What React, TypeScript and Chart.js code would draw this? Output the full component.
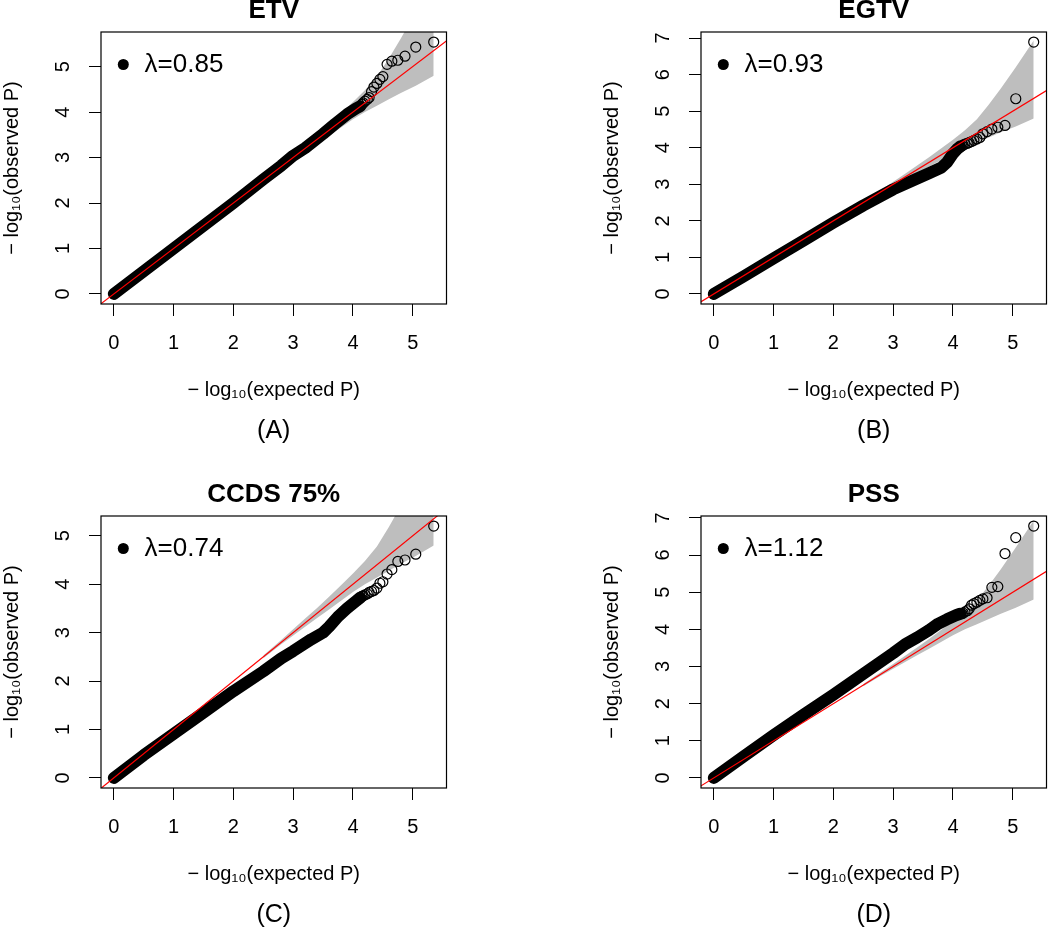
import React, { useEffect, useRef } from "react";
import { Chart, registerables } from "chart.js";

Chart.register(...registerables);

const FONT = "'Liberation Sans', Arial, Helvetica, sans-serif";

// ---------- data ----------
const panelTitles = ["ETV", "EGTV", "CCDS 75%", "PSS"];
const panelLabels = ["(A)", "(B)", "(C)", "(D)"];
const lambdas = [0.85, 0.93, 0.74, 1.12];

const xTicks = [0, 1, 2, 3, 4, 5];
const yTicks5 = [0, 1, 2, 3, 4, 5];
const yTicks7 = [0, 1, 2, 3, 4, 5, 6, 7];

const xAxisTitle = "\u2212 log\u2081\u2080(expected P)";
const yAxisTitle = "\u2212 log\u2081\u2080(observed P)";

// expected -log10(P) of the 16 most extreme (individually visible) points
const tailExpected = [4.15, 4.17, 4.2, 4.24, 4.27, 4.31, 4.35, 4.4, 4.45, 4.5, 4.57, 4.65, 4.75, 4.87, 5.05, 5.35];

// ETV
const etvBandX = [0, 0.5, 1, 1.5, 2, 2.5, 2.8, 3.0, 3.2, 3.5, 3.7, 3.9, 4.05, 4.12];
const etvBandY = [0, 0.5, 1.0, 1.5, 2.0, 2.52, 2.82, 3.04, 3.21, 3.52, 3.74, 3.95, 4.08, 4.13];
const etvTailY = [4.17, 4.2, 4.24, 4.28, 4.32, 4.45, 4.55, 4.63, 4.72, 4.78, 5.05, 5.12, 5.14, 5.23, 5.43, 5.54];

// EGTV
const egtvBandX = [0, 0.5, 1, 1.5, 2, 2.5, 3.0, 3.3, 3.6, 3.8, 3.9, 4.0, 4.08, 4.12];
const egtvBandY = [0, 0.48, 0.97, 1.46, 1.95, 2.42, 2.86, 3.08, 3.3, 3.45, 3.6, 3.84, 3.98, 4.03];
const egtvTailY = [4.05, 4.07, 4.1, 4.12, 4.14, 4.17, 4.2, 4.24, 4.28, 4.38, 4.44, 4.51, 4.56, 4.61, 5.34, 6.89];

// CCDS 75%
const ccdsBandX = [0, 0.5, 1, 1.5, 2, 2.5, 2.8, 3.0, 3.3, 3.5, 3.6, 3.75, 3.9, 4.05, 4.12];
const ccdsBandY = [0, 0.47, 0.91, 1.35, 1.79, 2.2, 2.47, 2.62, 2.86, 3.0, 3.12, 3.33, 3.5, 3.65, 3.72];
const ccdsTailY = [3.75, 3.76, 3.78, 3.8, 3.83, 3.85, 3.87, 3.92, 4.02, 4.05, 4.21, 4.3, 4.47, 4.5, 4.62, 5.2];

// PSS
const pssBandX = [0, 0.5, 1, 1.5, 2, 2.5, 3.0, 3.2, 3.4, 3.6, 3.75, 3.9, 4.05, 4.12];
const pssBandY = [0, 0.58, 1.15, 1.7, 2.24, 2.8, 3.36, 3.6, 3.78, 3.98, 4.15, 4.27, 4.38, 4.42];
const pssTailY = [4.42, 4.44, 4.47, 4.5, 4.55, 4.65, 4.69, 4.73, 4.78, 4.82, 4.85, 5.13, 5.15, 6.04, 6.47, 6.78];

// 95% confidence band (same number of tests in every panel)
const ciX = [2.5, 2.8, 3.0, 3.2, 3.4, 3.6, 3.8, 4.0, 4.2, 4.4, 4.6, 4.8, 5.05, 5.35];
const ciUpper = [2.53, 2.85, 3.07, 3.29, 3.51, 3.74, 3.98, 4.22, 4.48, 4.78, 5.18, 5.62, 6.2, 6.93];
const ciLower = [2.47, 2.76, 2.94, 3.12, 3.3, 3.48, 3.66, 3.84, 4.0, 4.14, 4.28, 4.42, 4.58, 4.8];

// y = x reference line end points
const identityLine = [-1, 8];

// ---------- chart building ----------
type Panel = {
  title: string;
  label: string;
  lambda: number;
  bandX: number[];
  bandY: number[];
  tailY: number[];
  yTicks: number[];
};

const panels: Panel[] = [
  { title: panelTitles[0], label: panelLabels[0], lambda: lambdas[0], bandX: etvBandX, bandY: etvBandY, tailY: etvTailY, yTicks: yTicks5 },
  { title: panelTitles[1], label: panelLabels[1], lambda: lambdas[1], bandX: egtvBandX, bandY: egtvBandY, tailY: egtvTailY, yTicks: yTicks7 },
  { title: panelTitles[2], label: panelLabels[2], lambda: lambdas[2], bandX: ccdsBandX, bandY: ccdsBandY, tailY: ccdsTailY, yTicks: yTicks5 },
  { title: panelTitles[3], label: panelLabels[3], lambda: lambdas[3], bandX: pssBandX, bandY: pssBandY, tailY: pssTailY, yTicks: yTicks7 },
];

const panelPos = [
  { left: -75, top: -19 },
  { left: 525, top: -19 },
  { left: -75, top: 465 },
  { left: 525, top: 465 },
];

const CW = 600;
const CH = 484;

const plotBox = {
  id: "plotBox",
  afterDraw(chart: any) {
    const { ctx, chartArea } = chart;
    ctx.save();
    ctx.strokeStyle = "#000";
    ctx.lineWidth = 1.2;
    ctx.strokeRect(chartArea.left, chartArea.top, chartArea.right - chartArea.left, chartArea.bottom - chartArea.top);
    ctx.restore();
  },
};

function buildConfig(p: Panel): any {
  const xDataMax = Math.max(...tailExpected);
  const yDataMax = Math.max(...p.tailY);
  const xMin = -0.04 * xDataMax;
  const xMax = xDataMax * 1.04;
  const yMin = -0.04 * yDataMax;
  const yMax = yDataMax * 1.04;

  const tickFont = { family: FONT, size: 20, lineHeight: 1.2 };

  return {
    type: "scatter",
    data: {
      datasets: [
        {
          type: "line",
          label: "y = x",
          data: identityLine.map((v) => ({ x: v, y: v })),
          borderColor: "#FF0000",
          borderWidth: 1.2,
          pointRadius: 0,
          fill: false,
          clip: 0,
          order: 0,
        },
        {
          type: "scatter",
          label: "tail",
          data: tailExpected.map((x, i) => ({ x, y: p.tailY[i] })),
          pointRadius: 5,
          pointBorderWidth: 1.2,
          borderWidth: 1.2,
          borderColor: "#000",
          backgroundColor: "rgba(0,0,0,0)",
          pointBackgroundColor: "rgba(0,0,0,0)",
          order: 1,
        },
        {
          type: "line",
          label: "band",
          data: p.bandX.map((x, i) => ({ x, y: p.bandY[i] })),
          borderColor: "#000",
          borderWidth: 12,
          borderCapStyle: "round",
          borderJoinStyle: "round",
          pointRadius: 0,
          tension: 0,
          fill: false,
          order: 2,
        },
        {
          type: "line",
          label: "ci upper",
          data: ciX.map((x, i) => ({ x, y: ciUpper[i] })),
          borderColor: "rgba(0,0,0,0)",
          borderWidth: 0,
          pointRadius: 0,
          backgroundColor: "#BEBEBE",
          fill: "+1",
          clip: 0,
          order: 3,
        },
        {
          type: "line",
          label: "ci lower",
          data: ciX.map((x, i) => ({ x, y: ciLower[i] })),
          borderColor: "rgba(0,0,0,0)",
          borderWidth: 0,
          pointRadius: 0,
          backgroundColor: "#BEBEBE",
          fill: false,
          clip: 0,
          order: 4,
        },
      ],
    },
    options: {
      responsive: false,
      animation: false,
      devicePixelRatio: 1,
      events: [],
      layout: { padding: { left: 60, right: 78.5, top: 0, bottom: 18 } },
      plugins: {
        tooltip: { enabled: false },
        title: {
          display: true,
          text: p.title,
          color: "#000",
          fullSize: false,
          font: { family: FONT, size: 26, weight: "bold", lineHeight: 1.2 },
          padding: { top: 14.4, bottom: 5.4 },
        },
        subtitle: {
          display: true,
          text: p.label,
          position: "bottom",
          color: "#000",
          fullSize: false,
          font: { family: FONT, size: 25, lineHeight: 1.2 },
          padding: { top: 14, bottom: 1 },
        },
        legend: {
          display: true,
          position: "chartArea",
          align: "start",
          // the in-plot legend is measured from the canvas top; the empty title supplies the offset
          title: { display: true, text: " ", font: { size: 5, lineHeight: 1.3 }, padding: { top: 50, bottom: 0 } },
          labels: {
            usePointStyle: true,
            boxWidth: 16.6,
            boxHeight: 7.8,
            padding: 14,
            color: "#000",
            font: { family: FONT, size: 26 },
            generateLabels: () => [
              {
                text: "\u03bb=" + p.lambda.toFixed(2),
                fillStyle: "#000",
                strokeStyle: "#000",
                lineWidth: 0,
                pointStyle: "circle",
                hidden: false,
                fontColor: "#000",
                datasetIndex: 1,
              },
            ],
          },
        },
      },
      scales: {
        x: {
          type: "linear",
          position: "bottom",
          min: xMin,
          max: xMax,
          afterBuildTicks: (s: any) => {
            s.ticks = xTicks.map((v) => ({ value: v }));
          },
          afterFit: (s: any) => {
            s.height = 98;
          },
          grid: { drawOnChartArea: false, drawTicks: true, tickLength: 12, color: "#000", lineWidth: 1 },
          border: { display: false },
          ticks: {
            autoSkip: false,
            maxRotation: 0,
            padding: 15,
            color: "#000",
            font: tickFont,
            callback: (v: any) => String(v),
          },
          title: {
            display: true,
            text: xAxisTitle,
            color: "#000",
            font: tickFont,
            padding: { top: 0, bottom: 0 },
          },
        },
        y: {
          type: "linear",
          position: "left",
          min: yMin,
          max: yMax,
          afterBuildTicks: (s: any) => {
            s.ticks = p.yTicks.map((v) => ({ value: v }));
          },
          afterFit: (s: any) => {
            s.width = 116;
          },
          grid: { drawOnChartArea: false, drawTicks: true, tickLength: 12, color: "#000", lineWidth: 1 },
          border: { display: false },
          ticks: {
            autoSkip: false,
            minRotation: 90,
            maxRotation: 90,
            crossAlign: "center",
            padding: 19.6,
            color: "#000",
            font: tickFont,
            callback: (v: any) => String(v),
          },
          title: {
            display: true,
            text: yAxisTitle,
            color: "#000",
            font: tickFont,
            padding: { top: 15, bottom: 0 },
          },
        },
      },
    },
    plugins: [plotBox],
  };
}

function QQPanel({ panel, left, top }: { panel: Panel; left: number; top: number }) {
  const ref = useRef<HTMLCanvasElement>(null);
  useEffect(() => {
    if (!ref.current) return;
    const chart = new Chart(ref.current, buildConfig(panel));
    return () => chart.destroy();
  }, [panel]);
  return (
    <canvas
      ref={ref}
      width={CW}
      height={CH}
      style={{ position: "absolute", left, top, width: CW, height: CH, display: "block" }}
    />
  );
}

export default function App() {
  return (
    <div
      style={{
        position: "fixed",
        left: 0,
        top: 0,
        width: 1050,
        height: 930,
        overflow: "hidden",
        background: "#fff",
      }}
    >
      {panels.map((p, i) => (
        <QQPanel key={p.title} panel={p} left={panelPos[i].left} top={panelPos[i].top} />
      ))}
    </div>
  );
}
